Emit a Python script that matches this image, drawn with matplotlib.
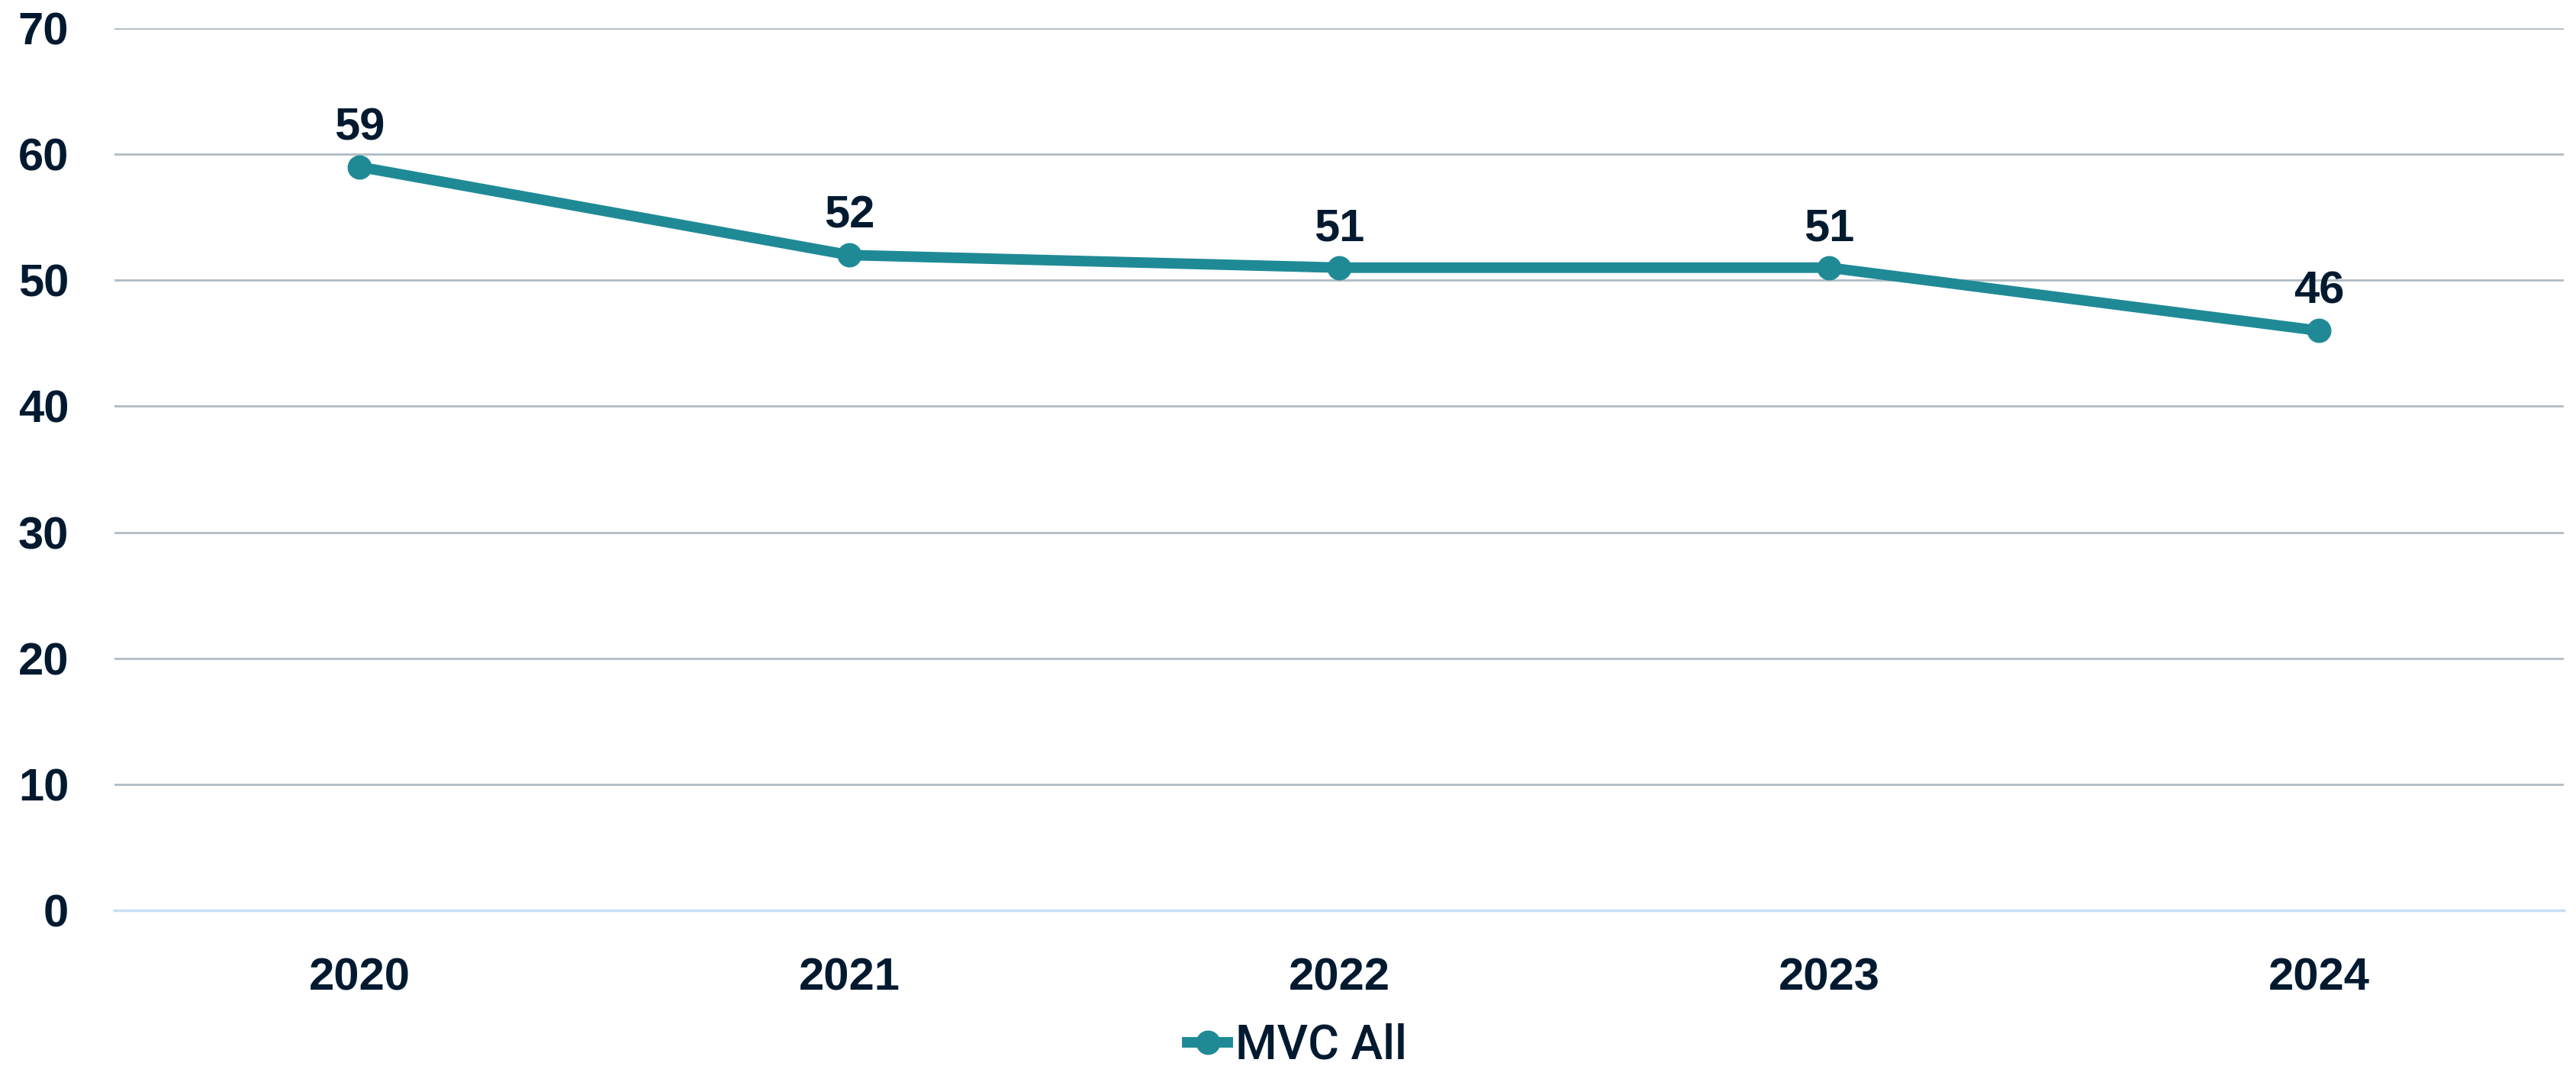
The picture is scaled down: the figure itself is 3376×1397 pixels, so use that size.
import matplotlib.pyplot as plt
from matplotlib.lines import Line2D

years = ['2020', '2021', '2022', '2023', '2024']
mvc_all = [59, 52, 51, 51, 46]
y_ticks = [0, 10, 20, 30, 40, 50, 60, 70]

text_color = '#021a30'
line_color = '#1f8a96'

fig = plt.figure(figsize=(33.76, 13.97), dpi=100)
ax = fig.add_axes([150 / 3376, 1 - 1193 / 1397, (3360 - 150) / 3376, (1193 - 37) / 1397])

x = range(len(years))
ax.plot(x, mvc_all, color=line_color, linewidth=10, marker='o', markersize=22,
        solid_capstyle='round', label='MVC All', zorder=3)

for xi, v in zip(x, mvc_all):
    ax.annotate(str(v), (xi, v), xytext=(0, 17), textcoords='offset points',
                ha='center', va='bottom', fontsize=43, fontweight='bold',
                family='Liberation Sans', color=text_color)

ax.set_xlim(-0.5, len(years) - 0.5)
ax.set_ylim(0, 70)
ax.set_yticks(y_ticks)
ax.set_xticks(list(x))
ax.set_xticklabels(years)
ax.grid(axis='y', color='#b0bcc4', linewidth=2)
ax.set_axisbelow(True)
for s in ['top', 'right', 'left']:
    ax.spines[s].set_visible(False)
ax.spines['bottom'].set_color('#c5def5')
ax.spines['bottom'].set_linewidth(2.5)
ax.tick_params(length=0, labelsize=43, labelcolor=text_color)
ax.tick_params(axis='y', pad=43)
ax.tick_params(axis='x', pad=44)
for lbl in ax.get_xticklabels() + ax.get_yticklabels():
    lbl.set_family('Liberation Sans')
    lbl.set_fontweight('bold')

handle = Line2D([], [], color=line_color, linewidth=10, marker='o', markersize=22)
fig.legend([handle], ['MVC All'], loc='center', bbox_to_anchor=(0.5035, 1 - 1371 / 1397),
           frameon=False, prop={'family': 'Roboto', 'weight': 'medium', 'size': 45},
           handlelength=0.85, handletextpad=0.15, labelcolor=text_color,
           borderpad=0.1)

fig.savefig('out.png', dpi=100)
